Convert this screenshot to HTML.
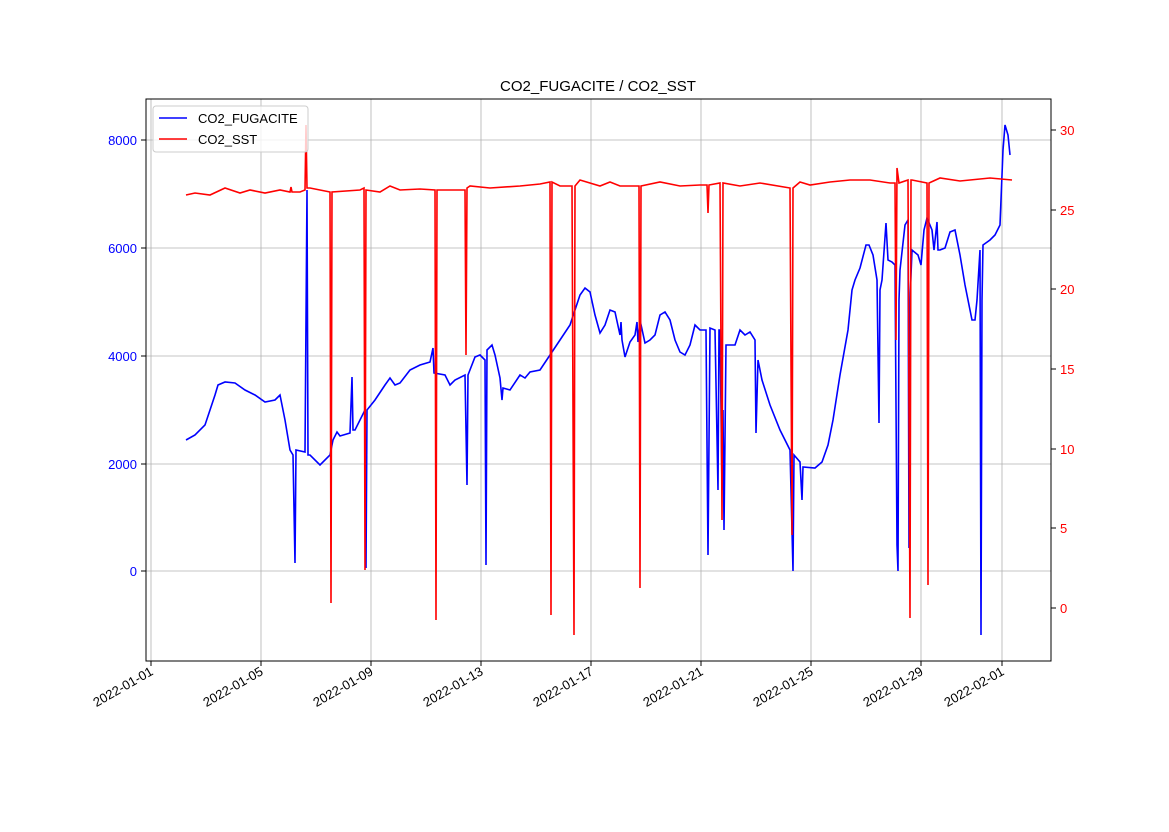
<!DOCTYPE html>
<html><head><meta charset="utf-8"><style>
body{margin:0;background:#fff;}
text{font-family:"Liberation Sans","DejaVu Sans",sans-serif;}
</style></head><body>
<svg width="1169" height="827" viewBox="0 0 1169 827" xmlns="http://www.w3.org/2000/svg">
<rect width="1169" height="827" fill="#fff"/>
<g stroke="#b0b0b0" stroke-width="0.8">
<line x1="151" y1="99" x2="151" y2="661"/><line x1="261" y1="99" x2="261" y2="661"/><line x1="371" y1="99" x2="371" y2="661"/><line x1="481" y1="99" x2="481" y2="661"/><line x1="591" y1="99" x2="591" y2="661"/><line x1="701" y1="99" x2="701" y2="661"/><line x1="811" y1="99" x2="811" y2="661"/><line x1="921" y1="99" x2="921" y2="661"/><line x1="1002" y1="99" x2="1002" y2="661"/>
<line x1="146" y1="140" x2="1051" y2="140"/><line x1="146" y1="248" x2="1051" y2="248"/><line x1="146" y1="356" x2="1051" y2="356"/><line x1="146" y1="464" x2="1051" y2="464"/><line x1="146" y1="571" x2="1051" y2="571"/>
</g>
<polyline fill="none" stroke="#0000ff" stroke-width="1.6" points="186,440 195,435 205,425 210,410 215,395 218,385 225,382 235,383 245,390 255,395 265,402 275,400 280,395 285,420 290,450 293,455 295,563 296,450 305,452 307,190 308,455 310,455 320,465 330,455 333,440 337,432 340,436 350,433 352,377 353,430 355,430 365,410 366,568 367,410 375,400 385,385 390,378 395,385 400,383 410,370 420,365 430,362 433,348 434,373 445,375 450,385 455,380 465,375 467,485 468,375 475,357 480,355 485,360 486,565 487,350 492,345 495,355 500,378 502,400 503,388 510,390 520,375 525,378 530,372 540,370 550,355 560,340 570,325 575,310 580,295 585,288 590,292 595,315 600,333 605,325 610,310 615,312 620,335 621,322 622,340 625,357 630,342 635,335 637,322 638,342 640,320 645,343 650,340 655,335 660,315 665,312 670,320 675,340 680,352 685,355 690,345 695,325 700,330 706,330 708,555 710,328 715,330 718,490 719,330 720,330 722,490 723,410 724,530 726,345 735,345 740,330 745,335 750,332 755,340 756,433 758,360 762,380 770,405 780,430 790,450 793,571 794,455 800,462 802,500 803,467 815,468 822,462 828,445 833,420 840,375 848,330 852,290 855,280 860,268 866,245 869,245 873,255 877,280 879,423 880,290 882,280 886,223 888,260 892,262 895,265 897,545 898,571 899,300 900,270 905,225 908,220 909,548 910,300 912,250 918,255 921,265 924,230 927,218 932,230 934,250 937,222 938,250 940,250 945,248 950,232 955,230 960,255 965,285 972,320 975,320 977,300 980,250 981,635 982,300 983,245 990,240 995,235 1000,225 1003,150 1005,125 1008,135 1010,155"/>
<polyline fill="none" stroke="#ff0000" stroke-width="1.6" points="186,195 195,193 210,195 225,188 240,193 250,190 265,193 280,190 290,192 291,187 292,192 300,192 305,190 306,125 307,188 310,188 330,192 331,603 332,192 360,190 364,188 365,570 366,190 380,192 390,186 400,190 420,189 435,190 436,620 437,190 450,190 465,190 466,355 467,188 470,186 490,188 520,186 540,184 550,182 551,615 552,182 560,186 572,186 574,635 575,186 580,180 600,186 610,182 620,186 639,186 640,588 641,186 660,182 680,186 700,185 707,185 708,213 709,185 720,183 722,520 723,183 740,186 760,183 790,188 792,535 793,188 800,182 810,185 830,182 850,180 870,180 890,183 895,183 896,340 897,168 899,183 908,180 910,618 911,180 912,180 927,183 928,585 929,183 940,178 960,181 990,178 1012,180"/>
<rect x="146" y="99" width="905" height="562" fill="none" stroke="#000" stroke-width="1"/>
<g font-size="13" fill="#0000ff" text-anchor="end">
<text x="137" y="145">8000</text><text x="137" y="253">6000</text><text x="137" y="361">4000</text><text x="137" y="469">2000</text><text x="137" y="576">0</text>
</g>
<g stroke="#000"><line x1="141" y1="140" x2="146" y2="140"/><line x1="141" y1="248" x2="146" y2="248"/><line x1="141" y1="356" x2="146" y2="356"/><line x1="141" y1="464" x2="146" y2="464"/><line x1="141" y1="571" x2="146" y2="571"/>
<line x1="1051" y1="130" x2="1056" y2="130"/><line x1="1051" y1="210" x2="1056" y2="210"/><line x1="1051" y1="289" x2="1056" y2="289"/><line x1="1051" y1="369" x2="1056" y2="369"/><line x1="1051" y1="449" x2="1056" y2="449"/><line x1="1051" y1="528" x2="1056" y2="528"/><line x1="1051" y1="608" x2="1056" y2="608"/></g>
<g font-size="13" fill="#ff0000">
<text x="1060" y="135">30</text><text x="1060" y="215">25</text><text x="1060" y="294">20</text><text x="1060" y="374">15</text><text x="1060" y="454">10</text><text x="1060" y="533">5</text><text x="1060" y="613">0</text>
</g>
<g stroke="#000"><line x1="151" y1="661" x2="151" y2="666"/><line x1="261" y1="661" x2="261" y2="666"/><line x1="371" y1="661" x2="371" y2="666"/><line x1="481" y1="661" x2="481" y2="666"/><line x1="591" y1="661" x2="591" y2="666"/><line x1="701" y1="661" x2="701" y2="666"/><line x1="811" y1="661" x2="811" y2="666"/><line x1="921" y1="661" x2="921" y2="666"/><line x1="1002" y1="661" x2="1002" y2="666"/></g>
<g font-size="13" fill="#000" text-anchor="end">
<text transform="translate(154,674) rotate(-30)">2022-01-01</text>
<text transform="translate(264,674) rotate(-30)">2022-01-05</text>
<text transform="translate(374,674) rotate(-30)">2022-01-09</text>
<text transform="translate(484,674) rotate(-30)">2022-01-13</text>
<text transform="translate(594,674) rotate(-30)">2022-01-17</text>
<text transform="translate(704,674) rotate(-30)">2022-01-21</text>
<text transform="translate(814,674) rotate(-30)">2022-01-25</text>
<text transform="translate(924,674) rotate(-30)">2022-01-29</text>
<text transform="translate(1005,674) rotate(-30)">2022-02-01</text>
</g>
<text x="598" y="91" font-size="15" text-anchor="middle">CO2_FUGACITE / CO2_SST</text>
<rect x="153" y="106" width="155" height="46" fill="#fff" fill-opacity="0.8" stroke="#ccc" rx="3"/>
<line x1="159" y1="118" x2="187" y2="118" stroke="#0000ff" stroke-width="1.6"/>
<text x="198" y="123" font-size="13">CO2_FUGACITE</text>
<line x1="159" y1="139" x2="187" y2="139" stroke="#ff0000" stroke-width="1.6"/>
<text x="198" y="144" font-size="13">CO2_SST</text>
</svg>
</body></html>
